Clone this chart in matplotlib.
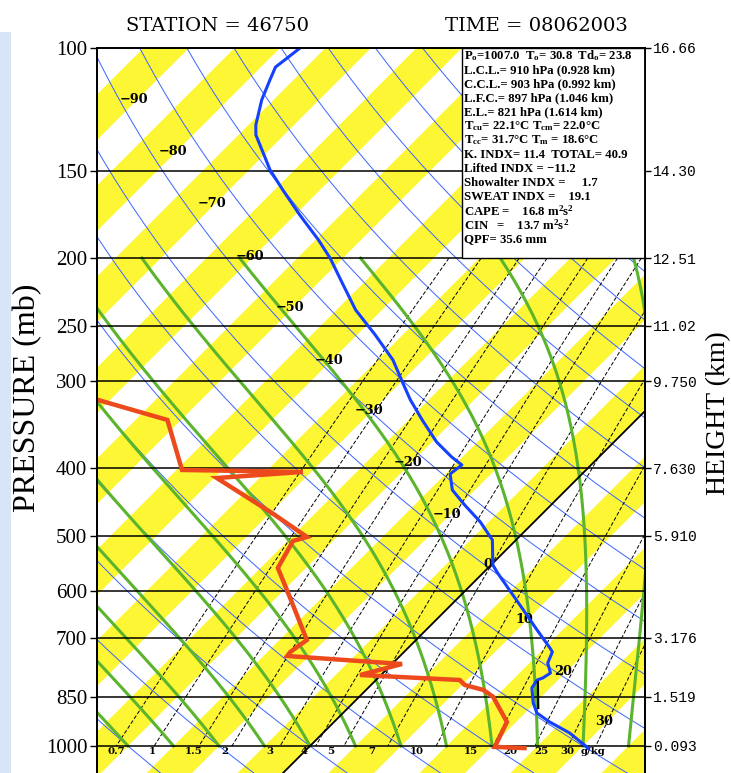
import numpy as np
import matplotlib
matplotlib.use("Agg")
import matplotlib.pyplot as plt
from matplotlib.patches import Polygon, Rectangle
from matplotlib.ticker import NullLocator

plt.rcParams['mathtext.fontset'] = 'custom'
plt.rcParams['mathtext.rm'] = 'Liberation Serif:bold'
plt.rcParams['mathtext.it'] = 'Liberation Serif:bold'
plt.rcParams['mathtext.bf'] = 'Liberation Serif:bold'

# ---- sounding ----
temp_p = [100.0, 103.3, 106.5, 111.1, 118.7, 128.9, 133.2, 139.9, 149.5, 159.7,
          173.4, 188.3, 200.0, 216.4, 237.3, 257.7, 279.9, 300.0, 319.3, 341.1,
          366.8, 385.4, 395.7, 407.6, 429.7, 451.5, 477.6, 506.8, 550.4, 565.1,
          638.5, 682.0, 723.8, 733.4, 760.5, 786.0, 799.1, 804.4, 825.8, 867.7,
          896.8, 923.9, 958.0, 1007.0]
temp_t = [-77.8, -78.1, -78.4, -77.6, -76.3, -74.2, -73.1, -70.8, -67.7, -64.1,
          -59.5, -54.7, -51.4, -47.5, -42.9, -38.0, -33.3, -30.0, -27.0, -23.5,
          -19.5, -16.2, -14.2, -14.5, -12.5, -9.5, -5.9, -2.6, 0.2, 1.6,
          8.5, 12.2, 15.6, 16.3, 17.0, 18.4, 18.1, 17.7, 18.0, 19.8,
          21.3, 23.7, 27.1, 30.8]

dewp_p = [308.0, 341.1, 402.3, 404.9, 413.1, 463.6, 501.8, 508.5, 555.8, 611.7,
          704.9, 733.4, 743.1, 763.0, 791.2, 804.4, 817.7, 831.3, 850.0, 923.9,
          1003.0, 1007.0]
dewp_t = [-66.7, -51.5, -44.4, -30.9, -39.7, -29.8, -23.3, -24.4, -23.1, -18.6,
          -12.0, -12.5, -12.4, 1.1, -2.3, 9.2, 10.3, 12.9, 14.7, 19.0,
          20.4, 23.8]

mark_p = [809.7, 882.1]
mark_t = [18.0, 20.9]

# ---- diagram furniture ----
pressure_ticks = [100, 150, 200, 250, 300, 400, 500, 600, 700, 850, 1000]
height_ticks_p = [100, 150, 200, 250, 300, 400, 500, 700, 850, 1000]
height_labels = ["16.66", "14.30", "12.51", "11.02", "9.750", "7.630",
                 "5.910", "3.176", "1.519", "0.093"]
mixing_ratios = [0.7, 1, 1.5, 2, 3, 4, 5, 7, 10, 15, 20, 25, 30]
mixing_labels = ["0.7", "1", "1.5", "2", "3", "4", "5", "7", "10", "15", "20", "25", "30"]
isotherm_vals = list(range(-90, 40, 10))
isotherm_label_p = [118.7, 140.9, 167.3, 199.2, 235.7, 279.9, 331.1, 393.1,
                    466.7, 550.4, 659.9, 783.4, 923.9]
moist_t0 = list(range(-20, 40, 5))
dry_theta = list(range(-40, 260, 10))

info_lines = [
    r"P$_\mathrm{o}$=1007.0  T$_\mathrm{o}$= 30.8  Td$_\mathrm{o}$= 23.8",
    "L.C.L.= 910 hPa (0.928 km)",
    "C.C.L.= 903 hPa (0.992 km)",
    "L.F.C.= 897 hPa (1.046 km)",
    "E.L.= 821 hPa (1.614 km)",
    r"T$_\mathrm{cu}$= 22.1°C T$_\mathrm{cm}$= 22.0°C",
    r"T$_\mathrm{cc}$= 31.7°C T$_\mathrm{m}$ = 18.6°C",
    "K. INDX= 11.4  TOTAL= 40.9",
    "Lifted INDX = \u221211.2",
    "Showalter INDX =     1.7",
    "SWEAT INDX =    19.1",
    r"CAPE =    16.8 m$^2$s$^2$",
    r"CIN   =    13.7 m$^2$s$^2$",
    "QPF= 35.6 mm",
]

YELLOW = "#fdf634"
GREEN = "#5ab52c"
THIN_BLUE = "#3a64ff"
T_BLUE = "#1440ff"
TD_RED = "#ec4a1c"

W, H = 731, 773
SKEW = 33.31          # deg C of x-shift per unit ln(p)
P_BOT = 1093.2


def fx(x):
    return x / W


def fy(y):
    return 1 - y / H


def skx(t, p):
    return np.asarray(t, dtype=float) + SKEW * np.log(1000.0 / np.asarray(p, dtype=float))


def moist_adiabat(t0, plev):
    Rd, Cp, eps = 287.04, 1005.7, 0.622

    def dtdp(T, p):
        Lv = 2.501e6 - 2370.0 * (T - 273.15)
        es = 6.112 * np.exp(17.67 * (T - 273.15) / (T - 29.65))
        rs = eps * es / (p - es)
        return (Rd * T + Lv * rs) / (p * (Cp + Lv * Lv * rs * eps / (Rd * T * T)))

    T = t0 + 273.15
    out = [T]
    for p0, p1 in zip(plev[:-1], plev[1:]):
        h = p1 - p0
        k1 = dtdp(T, p0)
        k2 = dtdp(T + h * k1 / 2, p0 + h / 2)
        k3 = dtdp(T + h * k2 / 2, p0 + h / 2)
        k4 = dtdp(T + h * k3, p1)
        T = T + h * (k1 + 2 * k2 + 2 * k3 + k4) / 6
        out.append(T)
    return np.array(out) - 273.15


def dewpoint_from_w(w, p):
    e = w * p / (622.0 + w)
    lg = np.log(e / 6.112)
    return 243.5 * lg / (17.67 - lg)


fig = plt.figure(figsize=(W / 100, H / 100), dpi=100)
ax = fig.add_axes([fx(97), 0, (645 - 97) / W, (H - 48) / H])
ax.set_yscale('log')
ax.set_ylim(P_BOT, 100)
ax.set_xlim(-23.41, 36.81)

# yellow isotherm bands
for t in range(-125, 45, 10):
    verts = [(skx(t, P_BOT), P_BOT), (skx(t, 100), 100),
             (skx(t + 5, 100), 100), (skx(t + 5, P_BOT), P_BOT)]
    ax.add_patch(Polygon(verts, closed=True, facecolor=YELLOW, edgecolor='none', zorder=1))

# dry adiabats
p_all = np.geomspace(100, P_BOT, 200)
for th in dry_theta:
    t = (th + 273.15) * (p_all / 1000.0) ** 0.2857 - 273.15
    ax.plot(skx(t, p_all), p_all, color=THIN_BLUE, lw=0.7, zorder=2)

# mixing ratio lines
p_mix = np.geomspace(200, 1000, 100)
for w in mixing_ratios:
    td = dewpoint_from_w(w, p_mix)
    ax.plot(skx(td, p_mix), p_mix, color='k', lw=0.7, ls=(0, (4, 2)), zorder=3)

# moist adiabats
p_moist = np.linspace(1000, 200, 161)
for t0 in moist_t0:
    t = moist_adiabat(t0, p_moist)
    ax.plot(skx(t, p_moist), p_moist, color=GREEN, lw=2.2, zorder=4)

# 0 C isotherm
ax.plot([skx(0, P_BOT), skx(0, 100)], [P_BOT, 100], color='k', lw=1.3, zorder=5)

# pressure lines
for p in pressure_ticks[1:]:
    ax.axhline(p, color='k', lw=1.1, zorder=5)

# isotherm labels
for t, p in zip(isotherm_vals, isotherm_label_p):
    lab = str(t).replace('-', '\u2212')
    ax.text(skx(t, p) - 0.3, p, lab, ha='center', va='center', fontsize=9.3,
            family='DejaVu Serif', weight='bold', zorder=6)

# mixing ratio labels
for w, lab in zip(mixing_ratios, mixing_labels):
    td = dewpoint_from_w(w, 1000.0)
    ax.text(td - 0.06 * (td + 21.3), 1020, lab, ha='center', va='center', fontsize=7.3,
            family='DejaVu Serif', weight='bold', zorder=6)
ax.text((593 - 97) / 548, (H - 752) / (H - 48), "g/kg", transform=ax.transAxes,
        ha='center', va='center', fontsize=7.3, family='DejaVu Serif', weight='bold', zorder=6)

# profiles
ax.plot(skx(dewp_t, dewp_p), dewp_p, color=TD_RED, lw=3.2, zorder=7, solid_joinstyle='miter')
ax.plot(skx(temp_t, temp_p), temp_p, color=T_BLUE, lw=2.2, zorder=8)
ax.plot(skx(mark_t, mark_p), mark_p, color='k', lw=1.6, zorder=8)

# info box
ax.add_patch(Rectangle((fx(462), fy(258)), (645 - 462) / W, (258 - 48) / H,
                       transform=fig.transFigure, facecolor='white', edgecolor='k',
                       lw=1.0, zorder=10))
for i, line in enumerate(info_lines):
    ax.text(fx(464), fy(56 + i * 14.1), line, transform=fig.transFigure, ha='left',
            va='center', fontsize=9.2, family='Liberation Serif', weight='bold', zorder=11)

# axes styling
ax.set_xticks([])
ax.set_yticks(pressure_ticks)
ax.set_yticklabels([str(p) for p in pressure_ticks], family='Liberation Serif', fontsize=15)
ax.yaxis.set_minor_locator(NullLocator())
ax.tick_params(axis='y', direction='out', length=5, width=1, pad=2)
for side in ['top', 'left', 'right']:
    ax.spines[side].set_linewidth(1.3)
ax.spines['bottom'].set_visible(False)

ax2 = ax.twinx()
ax2.set_yscale('log')
ax2.set_ylim(P_BOT, 100)
ax2.set_yticks(height_ticks_p)
ax2.set_yticklabels(height_labels, family='Liberation Mono', fontsize=10.5)
ax2.yaxis.set_minor_locator(NullLocator())
ax2.tick_params(axis='y', direction='out', length=4, width=1, pad=2)
ax2.spines['bottom'].set_visible(False)
for side in ['top', 'left', 'right']:
    ax2.spines[side].set_linewidth(1.3)

# titles and axis names
fig.text(fx(217), fy(26), "STATION = 46750", ha='center', va='center',
         family='DejaVu Serif', fontsize=14)
fig.text(fx(536), fy(26), "TIME = 08062003", ha='center', va='center',
         family='DejaVu Serif', fontsize=14)
fig.text(fx(28), fy(398), "PRESSURE (mb)", rotation=90, ha='center', va='center',
         family='Liberation Serif', fontsize=23)
fig.text(fx(719), fy(413), "HEIGHT (km)", rotation=90, ha='center', va='center',
         family='Liberation Serif', fontsize=20)

# page edge strip on the left
fig.add_artist(Rectangle((0, 0), fx(11), fy(32), transform=fig.transFigure,
                         facecolor='#d6e6f6', edgecolor='none'))

fig.savefig("out.png", dpi=100)
